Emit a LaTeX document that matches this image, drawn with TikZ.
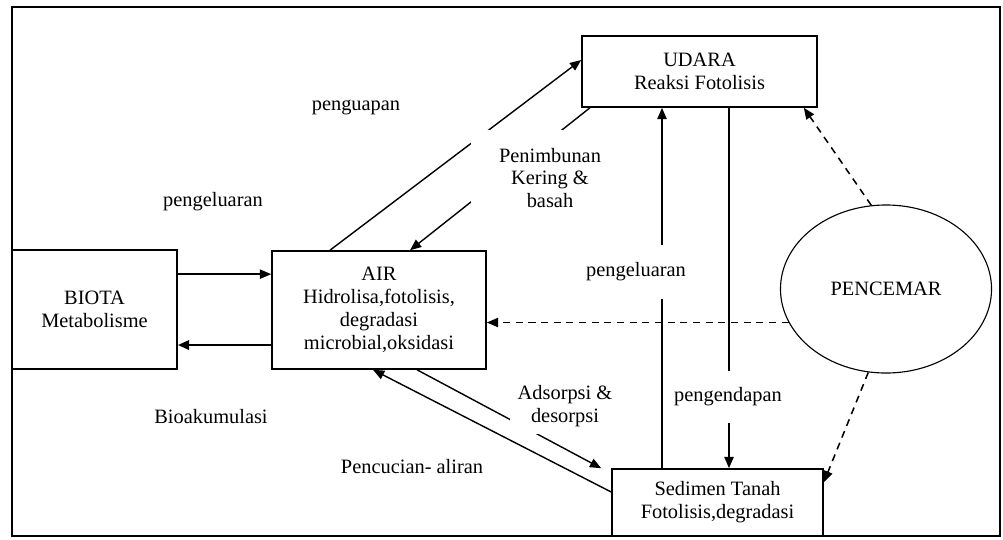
\documentclass[tikz,border=0pt]{standalone}
\usepackage{fontspec}
\setmainfont{Liberation Serif}
\usetikzlibrary{arrows.meta,shapes.geometric,positioning}
\tikzset{
  box/.style={draw,line width=1.1pt,align=center,inner sep=0pt},
  arr/.style={line width=1pt,-{Triangle[length=8pt,width=6.5pt]}},
  dsh/.style={arr,line width=1.1pt,dash pattern=on 5pt off 4pt},
  gaplbl/.style={fill=white,align=center,inner xsep=#1},
}
\begin{document}
\begin{tikzpicture}[x=0.025cm,y=-0.025cm,font=\fontsize{14.5}{16.3}\selectfont]
  \useasboundingbox(0,0)rectangle(1003,539);
  \draw[line width=1.1pt](12,7)rectangle(1000,536);
  \node[box,minimum width=4.125cm,minimum height=2.975cm](biota)at(94.5,309.5){BIOTA\\Metabolisme};
  \node[box,minimum width=5.35cm,minimum height=2.95cm](air)at(379,310){AIR\\Hidrolisa,fotolisis,\\degradasi\\microbial,oksidasi};
  \node[box,minimum width=5.875cm,minimum height=1.775cm](udara)at(699.5,71.5){UDARA\\Reaksi Fotolisis};
  \node[box,minimum width=5.275cm,minimum height=1.675cm](sedimen)at(717.5,502.5){Sedimen Tanah\\Fotolisis,degradasi};
  \node[draw,ellipse,line width=0.8pt,minimum width=5.275cm,minimum height=4.2cm,inner sep=0pt](pc)at(886,289){PENCEMAR};
  \draw[arr](biota.23.9)--(biota.23.9-|air.west);
  \draw[arr,line width=1.8pt](air.198.6)--(air.198.6-|biota.east);
  \draw[arr]([xshift=-1.225cm]air.north)--([yshift=0.2875cm]udara.west);
  \draw[arr]([xshift=-2.7375cm]udara.south)--([xshift=0.775cm]air.north);
  \coordinate(upx)at(662,0);
  \coordinate(dnx)at(729,0);
  \draw[arr,line width=1.3pt](upx|-sedimen.north)--(upx|-udara.south);
  \draw[arr,line width=1.3pt](dnx|-udara.south)--(dnx|-sedimen.north);
  \draw[dsh](pc.199.5)--(pc.199.5-|air.east);
  \draw[dsh](pc.100.8)--([xshift=-0.35cm]udara.south east);
  \draw[dsh](pc.258.6)--([yshift=-0.35cm]sedimen.north east);
  \draw[arr]([xshift=0.95cm]air.south)--([xshift=-0.25cm]sedimen.north west);
  \draw[arr]([yshift=0.2625cm]sedimen.west)--([xshift=-0.15cm]air.south);
  \node(lblpenguapan)at(356,107){penguapan};
  \node(lblkeluar)at(213,202){pengeluaran};
  \node(lblbio)at(211,417){Bioakumulasi};
  \node(lblcuci)at(412,467){Pencucian- aliran};
  \node[gaplbl=0.7cm,inner ysep=0.45cm](lblkering)at(550,178){Penimbunan\\Kering \&\\basah};
  \node[gaplbl=0.25cm,inner ysep=0.45cm](lblkeluar2)at(636,272){pengeluaran};
  \node[gaplbl=0.25cm,inner ysep=0.42cm](lblendap)at(728,397){pengendapan};
  \node[gaplbl=0.2cm,inner ysep=0.18cm](lbladsorp)at(565,406){Adsorpsi \&\\desorpsi};
\end{tikzpicture}
\end{document}
